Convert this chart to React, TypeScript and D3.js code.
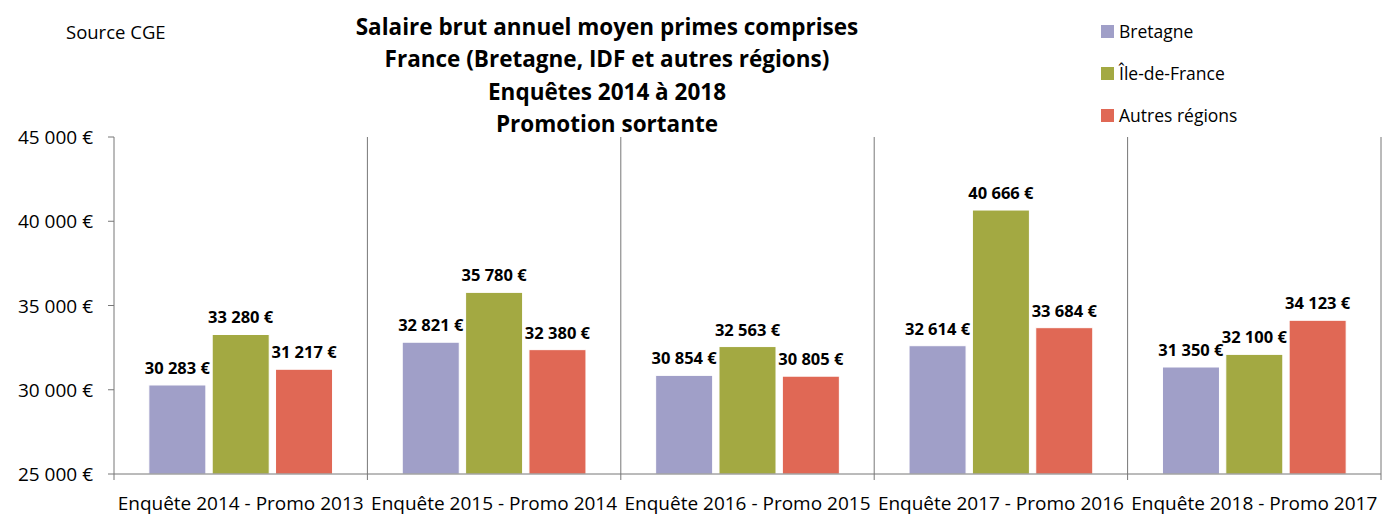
import React from 'react';
import * as d3 from 'd3';

const categories = [
  'Enquête 2014 - Promo 2013',
  'Enquête 2015 - Promo 2014',
  'Enquête 2016 - Promo 2015',
  'Enquête 2017 - Promo 2016',
  'Enquête 2018 - Promo 2017',
];
const seriesNames = ['Bretagne', 'Île-de-France', 'Autres régions'];
const seriesColors = ['#A09FC8', '#A3A942', '#E06855'];
const bretagne = [30283, 32821, 30854, 32614, 31350];
const idf = [33280, 35780, 32563, 40666, 32100];
const autres = [31217, 32380, 30805, 33684, 34123];
const yTicks = [25000, 30000, 35000, 40000, 45000];
const titleLines = [
  'Salaire brut annuel moyen primes comprises',
  'France (Bretagne, IDF et autres régions)',
  'Enquêtes 2014 à 2018',
  'Promotion sortante',
];

const W = 1383;
const H = 515;
const left = 114;
const right = 1381;
const top = 137;
const bottom = 474;
const font = "'Open Sans', 'Noto Sans', sans-serif";

const fmt = (v: number) => d3.format(',')(v).replace(/,/g, ' ') + ' €';

export default function App() {
  const series = [bretagne, idf, autres];
  const x = d3.scaleBand<string>().domain(categories).range([left, right]).paddingInner(0).paddingOuter(0);
  const x1 = d3
    .scaleBand<number>()
    .domain([0, 1, 2])
    .range([0, x.bandwidth()])
    .paddingInner(0.1)
    .paddingOuter(0.55);
  const y = d3.scaleLinear().domain([25000, 45000]).range([bottom, top]);

  return (
    <svg width={W} height={H} style={{ position: 'absolute', left: 0, top: 0, fontFamily: font }}>
      <rect width={W} height={H} fill="#fff" />
      <text x={66} y={39} fontSize={18.5} fill="#000">Source CGE</text>
      {titleLines.map((t, i) => (
        <text key={i} x={607} y={35 + i * 32.3} textAnchor="middle" fontSize={22.5} fontWeight="bold" fill="#000">
          {t}
        </text>
      ))}
      {seriesNames.map((n, i) => (
        <g key={n} transform={`translate(1101, ${25 + i * 42})`}>
          <rect width={13} height={13} fill={seriesColors[i]} />
          <text x={18} y={13} fontSize={17.5} fill="#000">{n}</text>
        </g>
      ))}
      {/* category separators */}
      {categories.map((c) => (
        <line key={c} x1={x(c)! + x.bandwidth()} x2={x(c)! + x.bandwidth()} y1={top} y2={bottom + 6}
          stroke="#777" strokeWidth={1} />
      ))}
      <line x1={left} x2={left} y1={bottom} y2={bottom + 6} stroke="#777" />
      {/* y axis */}
      <line x1={left} x2={left} y1={top} y2={bottom} stroke="#777" />
      {yTicks.map((t) => (
        <g key={t}>
          <line x1={left - 6} x2={left} y1={y(t)} y2={y(t)} stroke="#777" />
          <text x={93} y={y(t) + 7} textAnchor="end" fontSize={19} fill="#000">{fmt(t)}</text>
        </g>
      ))}
      {/* bars */}
      {categories.map((c, ci) => (
        <g key={c} transform={`translate(${x(c)}, 0)`}>
          {series.map((s, si) => (
            <g key={si}>
              <rect x={x1(si)} y={y(s[ci])} width={x1.bandwidth()} height={bottom - y(s[ci])}
                fill={seriesColors[si]} stroke="#fff" strokeWidth={1} />
              <text x={x1(si)! + x1.bandwidth() / 2} y={y(s[ci]) - 11} textAnchor="middle" fontSize={16.5}
                fontWeight="bold" fill="#000">{fmt(s[ci])}</text>
            </g>
          ))}
          <text x={x.bandwidth() / 2} y={510} textAnchor="middle" fontSize={19} fill="#000">{c}</text>
        </g>
      ))}
      <line x1={left} x2={right} y1={bottom} y2={bottom} stroke="#777" />
    </svg>
  );
}
